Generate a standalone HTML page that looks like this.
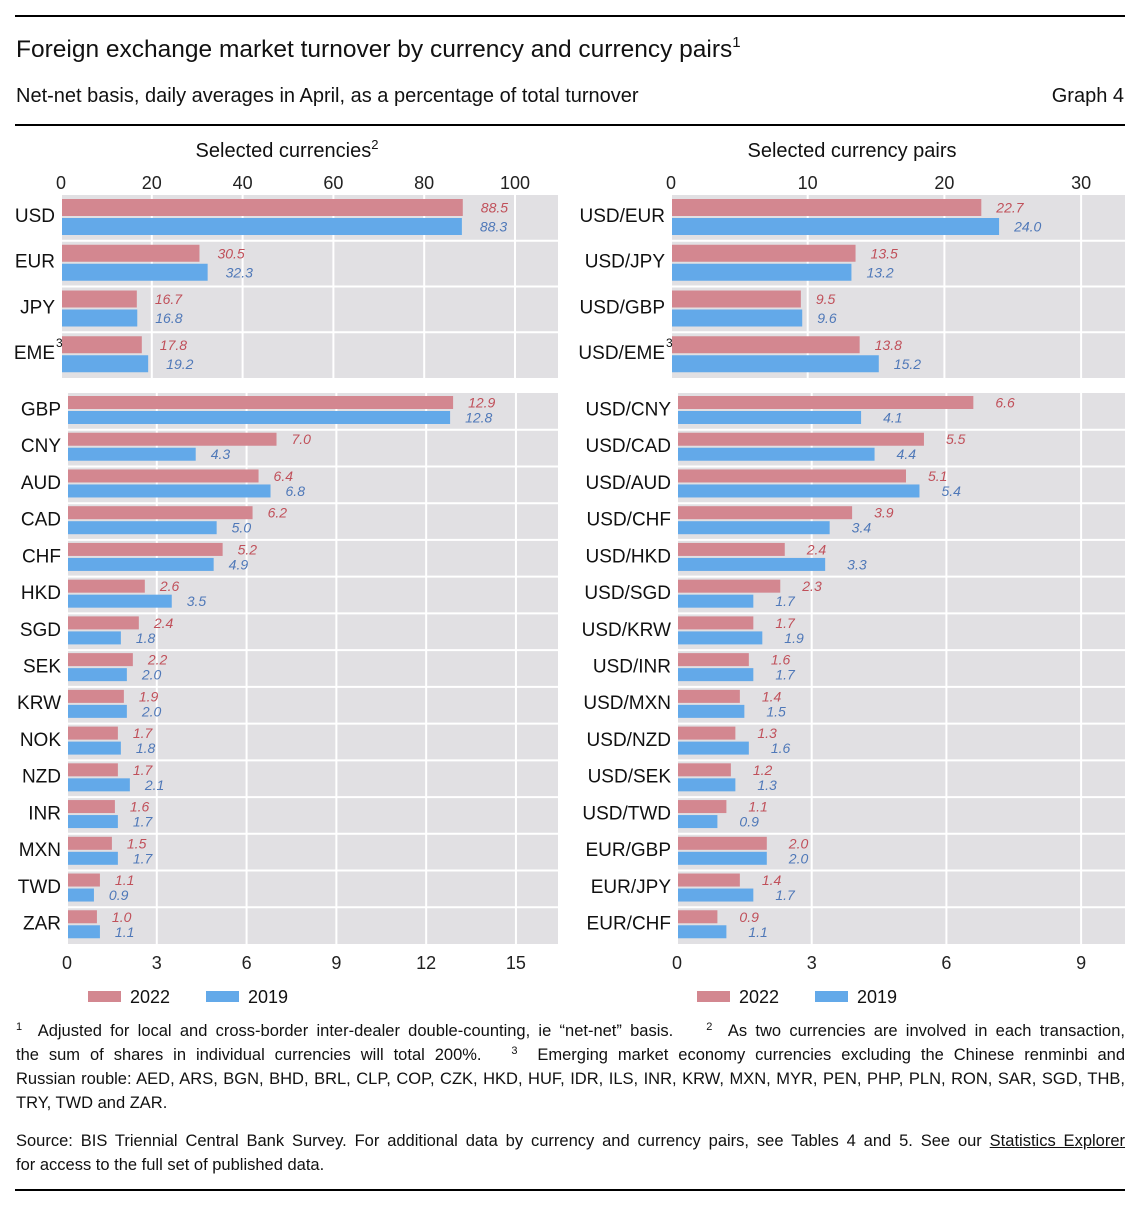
<!DOCTYPE html>
<html><head><meta charset="utf-8">
<style>
body{margin:0;background:#fff;width:1140px;height:1206px;position:relative;overflow:hidden;font-family:"Liberation Sans",sans-serif;color:#111}
.abs{position:absolute}
.fn{position:absolute;left:16px;width:1109px;font-size:16.5px;line-height:24px;white-space:nowrap}
.fn div{text-align:justify;text-align-last:justify;white-space:normal}
.fn div.last{text-align-last:left}
sup{font-size:11px;vertical-align:6px;line-height:0}
.tsup{font-size:15px;vertical-align:10px}
</style></head><body>
<div class="abs" style="left:15px;top:15px;width:1110px;height:2px;background:#000"></div>
<div class="abs" style="left:16px;top:36px;font-size:24.5px">Foreign exchange market turnover by currency and currency pairs<sup class="tsup">1</sup></div>
<div class="abs" style="left:16px;top:85px;font-size:20px">Net-net basis, daily averages in April, as a percentage of total turnover</div>
<div class="abs" style="right:16px;top:85px;font-size:20px">Graph 4</div>
<div class="abs" style="left:15px;top:124px;width:1110px;height:2px;background:#000"></div>
<svg id="chart" class="abs" style="left:0;top:0" width="1140" height="1020"></svg>
<div class="fn" style="top:1019px">
<div><sup>1</sup>&nbsp; Adjusted for local and cross-border inter-dealer double-counting, ie “net-net” basis. &nbsp;&nbsp; <sup>2</sup>&nbsp; As two currencies are involved in each transaction,</div>
<div>the sum of shares in individual currencies will total 200%. &nbsp; <sup>3</sup>&nbsp; Emerging market economy currencies excluding the Chinese renminbi and</div>
<div>Russian rouble: AED, ARS, BGN, BHD, BRL, CLP, COP, CZK, HKD, HUF, IDR, ILS, INR, KRW, MXN, MYR, PEN, PHP, PLN, RON, SAR, SGD, THB,</div>
<div class="last">TRY, TWD and ZAR.</div>
</div>
<div class="fn" style="top:1129px">
<div>Source: BIS Triennial Central Bank Survey. For additional data by currency and currency pairs, see Tables 4 and 5. See our <span style="text-decoration:underline">Statistics Explorer</span></div>
<div class="last">for access to the full set of published data.</div>
</div>
<div class="abs" style="left:15px;top:1189px;width:1110px;height:2px;background:#000"></div>
<script>
const curTopCats=["USD","EUR","JPY","EME"];
const curTop2022=[88.5,30.5,16.7,17.8];
const curTop2019=[88.3,32.3,16.8,19.2];
const curBotCats=["GBP","CNY","AUD","CAD","CHF","HKD","SGD","SEK","KRW","NOK","NZD","INR","MXN","TWD","ZAR"];
const curBot2022=[12.9,7.0,6.4,6.2,5.2,2.6,2.4,2.2,1.9,1.7,1.7,1.6,1.5,1.1,1.0];
const curBot2019=[12.8,4.3,6.8,5.0,4.9,3.5,1.8,2.0,2.0,1.8,2.1,1.7,1.7,0.9,1.1];
const pairTopCats=["USD/EUR","USD/JPY","USD/GBP","USD/EME"];
const pairTop2022=[22.7,13.5,9.5,13.8];
const pairTop2019=[24.0,13.2,9.6,15.2];
const pairBotCats=["USD/CNY","USD/CAD","USD/AUD","USD/CHF","USD/HKD","USD/SGD","USD/KRW","USD/INR","USD/MXN","USD/NZD","USD/SEK","USD/TWD","EUR/GBP","EUR/JPY","EUR/CHF"];
const pairBot2022=[6.6,5.5,5.1,3.9,2.4,2.3,1.7,1.6,1.4,1.3,1.2,1.1,2.0,1.4,0.9];
const pairBot2019=[4.1,4.4,5.4,3.4,3.3,1.7,1.9,1.7,1.5,1.6,1.3,0.9,2.0,1.7,1.1];
const topTicksL=[0,20,40,60,80,100], botTicksL=[0,3,6,9,12,15];
const topTicksR=[0,10,20,30], botTicksR=[0,3,6,9];

const svg=document.getElementById('chart');
const NS='http://www.w3.org/2000/svg';
function el(t,a,p){const e=document.createElementNS(NS,t);for(const k in a)e.setAttribute(k,a[k]);(p||svg).appendChild(e);return e;}
function txt(x,y,s,a,p){const e=el('text',Object.assign({x:x,y:y,'font-family':'Liberation Sans, sans-serif'},a),p);e.textContent=s;return e;}

function draw(o){
  const g=el('g',{});
  
  
  const sx=v=>o.zx+v*o.ppu;
  const bg=el('rect',{x:o.x0,y:o.y0,width:o.x1-o.x0,height:o.y1-o.y0,fill:'#e1e0e3'},g);
  
  
  o.ticks.forEach(t=>{
    if(t>0){const l=el('line',{x1:sx(t),x2:sx(t),y1:o.y0,y2:o.y1,stroke:'#fff','stroke-width':2},g);
    
    }
    const tl=txt(sx(t),o.tickY,String(t),{'font-size':18,'text-anchor':'middle',fill:'#222'},g);
    
    
  });
  const rh=(o.y1-o.y0)/o.cats.length;
  o.cats.forEach((c,i)=>{
    const ry=o.y0+i*rh;
    if(i>0){const s=el('line',{x1:o.x0,x2:o.x1,y1:ry,y2:ry,stroke:'#fff','stroke-width':2},g);
    
    }
    const b1=el('rect',{x:o.zx+1,y:ry+o.pinkOff,width:sx(o.v22[i])-o.zx-1,height:o.barH,fill:'#d38790'},g);
    
    
    const b2=el('rect',{x:o.zx+1,y:ry+o.blueOff,width:sx(o.v19[i])-o.zx-1,height:o.barH,fill:'#63a9e9'},g);
    
    
    const l1=txt(sx(o.v22[i])+o.lblOff,ry+o.pinkOff+o.barH/2+5,o.v22[i].toFixed(1),{'font-size':14,'font-style':'italic',fill:'#c0505a'},g);
    
    
    const l2=txt(sx(o.v19[i])+o.lblOff,ry+o.blueOff+o.barH/2+5,o.v19[i].toFixed(1),{'font-size':14,'font-style':'italic',fill:'#4f78b8'},g);
    
    
    const cl=txt(o.labelX,ry+rh/2+4,c,{'font-size':19,'text-anchor':'end',fill:'#111'},g);
    
    
    if(o.sup&&i===o.cats.length-1){const sp=txt(o.labelX+1,ry+rh/2-8,'3',{'font-size':12,fill:'#111'},g);
    
    }
  });
}
draw({name:'currencies-top-panel',cats:curTopCats,v22:curTop2022,v19:curTop2019,x0:62,x1:558,y0:195,y1:378,zx:61,ppu:4.54,ticks:topTicksL,tickY:189,labelX:55,barH:17,pinkOff:4,blueOff:23,lblOff:18,sup:true});
draw({name:'currencies-bottom-panel',cats:curBotCats,v22:curBot2022,v19:curBot2019,x0:68,x1:558,y0:393,y1:944,zx:67,ppu:29.93,ticks:botTicksL,tickY:969,labelX:61,barH:13,pinkOff:3,blueOff:18,lblOff:15,sup:false});
draw({name:'pairs-top-panel',cats:pairTopCats,v22:pairTop2022,v19:pairTop2019,x0:672,x1:1125,y0:195,y1:378,zx:671,ppu:13.67,ticks:topTicksR,tickY:189,labelX:665,barH:17,pinkOff:4,blueOff:23,lblOff:15,sup:true});
draw({name:'pairs-bottom-panel',cats:pairBotCats,v22:pairBot2022,v19:pairBot2019,x0:678,x1:1125,y0:393,y1:944,zx:677,ppu:44.9,ticks:botTicksR,tickY:969,labelX:671,barH:13,pinkOff:3,blueOff:18,lblOff:22,sup:false});

let t=txt(287,157,'Selected currencies',{'font-size':20,'text-anchor':'middle',fill:'#111'});


let ts=el('tspan',{'font-size':13,dy:-8},t);ts.textContent='2';
t=txt(852,157,'Selected currency pairs',{'font-size':20,'text-anchor':'middle',fill:'#111'});



const legendX=[[88,206],[697,815]];
legendX.forEach((p,k)=>{
  const r1=el('rect',{x:p[0],y:991,width:33,height:11,fill:'#d38790'});
  
  
  const a=txt(p[0]+42,1003,'2022',{'font-size':18,fill:'#111'});
  
  
  const r2=el('rect',{x:p[1],y:991,width:33,height:11,fill:'#63a9e9'});
  
  
  const b=txt(p[1]+42,1003,'2019',{'font-size':18,fill:'#111'});
  
  
});
</script>
</body></html>
